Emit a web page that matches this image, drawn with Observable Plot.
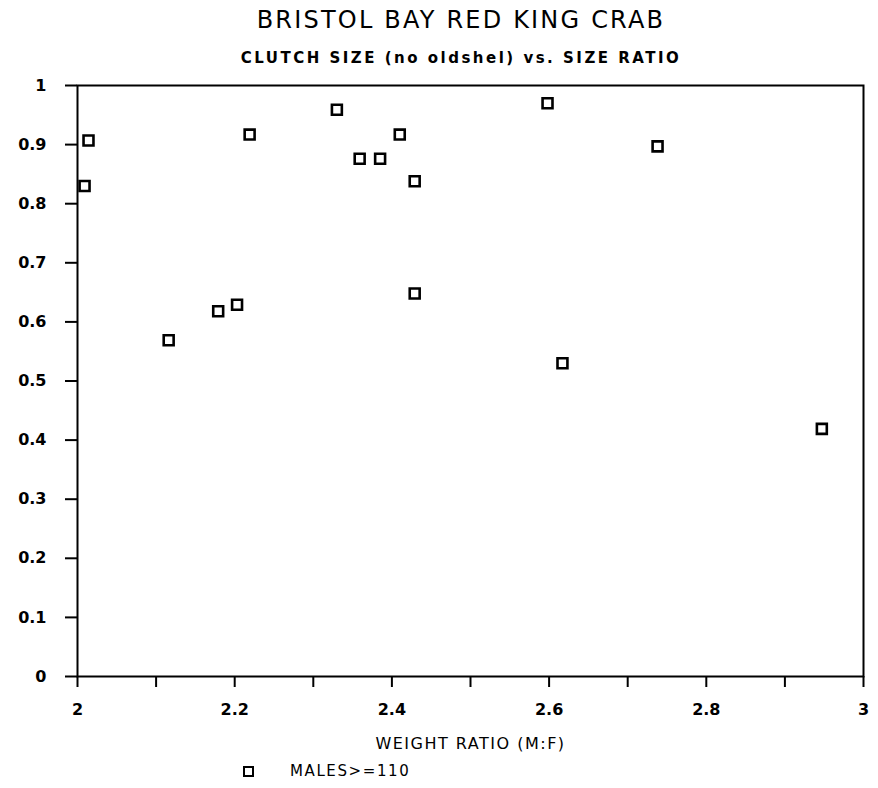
<!DOCTYPE html>
<html><head><meta charset="utf-8">
<script src="https://cdn.jsdelivr.net/npm/d3@7"></script>
<script src="https://cdn.jsdelivr.net/npm/@observablehq/plot@0.6"></script>
<style>
body{margin:0;background:#fff;}
#wrap{position:relative;width:878px;height:788px;font-family:"DejaVu Sans",sans-serif;color:#000;background:#fff;}
#title{position:absolute;z-index:2;left:0;top:5px;width:878px;padding-left:44px;box-sizing:border-box;text-align:center;font-size:24px;letter-spacing:2.2px;line-height:30px;white-space:nowrap;}
#subtitle{position:absolute;z-index:2;left:0;top:47px;width:878px;padding-left:44px;box-sizing:border-box;text-align:center;font-size:15px;font-weight:bold;letter-spacing:2.5px;line-height:22px;white-space:nowrap;}
#chart{position:absolute;z-index:1;left:0;top:62px;}
#legend{position:absolute;z-index:2;left:0;top:761px;width:878px;height:20px;font-size:15px;line-height:20px;}
#legend .mk{position:absolute;left:243px;top:5px;width:7px;height:7px;border:2.5px solid #000;}
#legend .lb{position:absolute;left:290px;top:0;white-space:nowrap;letter-spacing:1.6px;}
</style>
</head><body>
<div id="wrap">
  <div id="chart"></div>
  <div id="title"></div>
  <div id="subtitle"></div>
  <div id="legend"><span class="mk"></span><span class="lb"></span></div>
</div>
<script>
const titleText = "BRISTOL BAY RED KING CRAB";
const subtitleText = "CLUTCH SIZE (no oldshel) vs. SIZE RATIO";
const xLabel = "WEIGHT RATIO (M:F)";
const seriesName = "MALES>=110";

const weightRatio = [2.009, 2.014, 2.116, 2.179, 2.203, 2.219, 2.330, 2.359, 2.385, 2.410, 2.429, 2.429, 2.598, 2.617, 2.738, 2.947];
const clutchSize  = [0.830, 0.907, 0.569, 0.618, 0.629, 0.917, 0.959, 0.876, 0.876, 0.917, 0.838, 0.648, 0.970, 0.530, 0.897, 0.419];

const xTicks = [2, 2.1, 2.2, 2.3, 2.4, 2.5, 2.6, 2.7, 2.8, 2.9, 3];
const xTickLabels = ["2", "", "2.2", "", "2.4", "", "2.6", "", "2.8", "", "3"];
const yTicks = [0, 0.1, 0.2, 0.3, 0.4, 0.5, 0.6, 0.7, 0.8, 0.9, 1];
const yTickLabels = ["0", "0.1", "0.2", "0.3", "0.4", "0.5", "0.6", "0.7", "0.8", "0.9", "1"];

document.getElementById("title").textContent = titleText;
document.getElementById("subtitle").textContent = subtitleText;
document.querySelector("#legend .lb").textContent = seriesName;

const data = weightRatio.map((w, i) => ({w, c: clutchSize[i]}));

const chart = Plot.plot({
  width: 878,
  height: 700,
  marginTop: 23,
  marginBottom: 86,
  marginLeft: 77,
  marginRight: 15,
  style: {fontFamily: "DejaVu Sans, sans-serif", fontSize: "16px", fontWeight: "bold", color: "#000", background: "transparent"},
  x: {domain: [2, 3]},
  y: {domain: [0, 1]},
  marks: [
    Plot.axisX({ticks: xTicks, tickFormat: d => xTickLabels[xTicks.indexOf(d)], tickSize: 11, tickPadding: 16, strokeWidth: 2, label: null, fontSize: 16, fontWeight: "bold"}),
    Plot.axisY({ticks: yTicks, tickFormat: d => yTickLabels[yTicks.indexOf(d)], tickSize: 12, tickPadding: 19, strokeWidth: 2, label: null, fontSize: 16, fontWeight: "bold"}),
    Plot.frame({stroke: "black", strokeWidth: 2}),
    Plot.dot(data, {x: "w", y: "c", symbol: "square", r: 5.6, stroke: "black", strokeWidth: 2.6, fill: "white"}),
    Plot.text([xLabel], {frameAnchor: "bottom", dy: 72, text: d => d, fontSize: 16, fontWeight: "normal", fill: "black"})
  ]
});
chart.querySelectorAll("text").forEach(t => { if (t.textContent === xLabel) t.setAttribute("letter-spacing", "1.5"); });
document.getElementById("chart").appendChild(chart);
</script>
</body></html>
